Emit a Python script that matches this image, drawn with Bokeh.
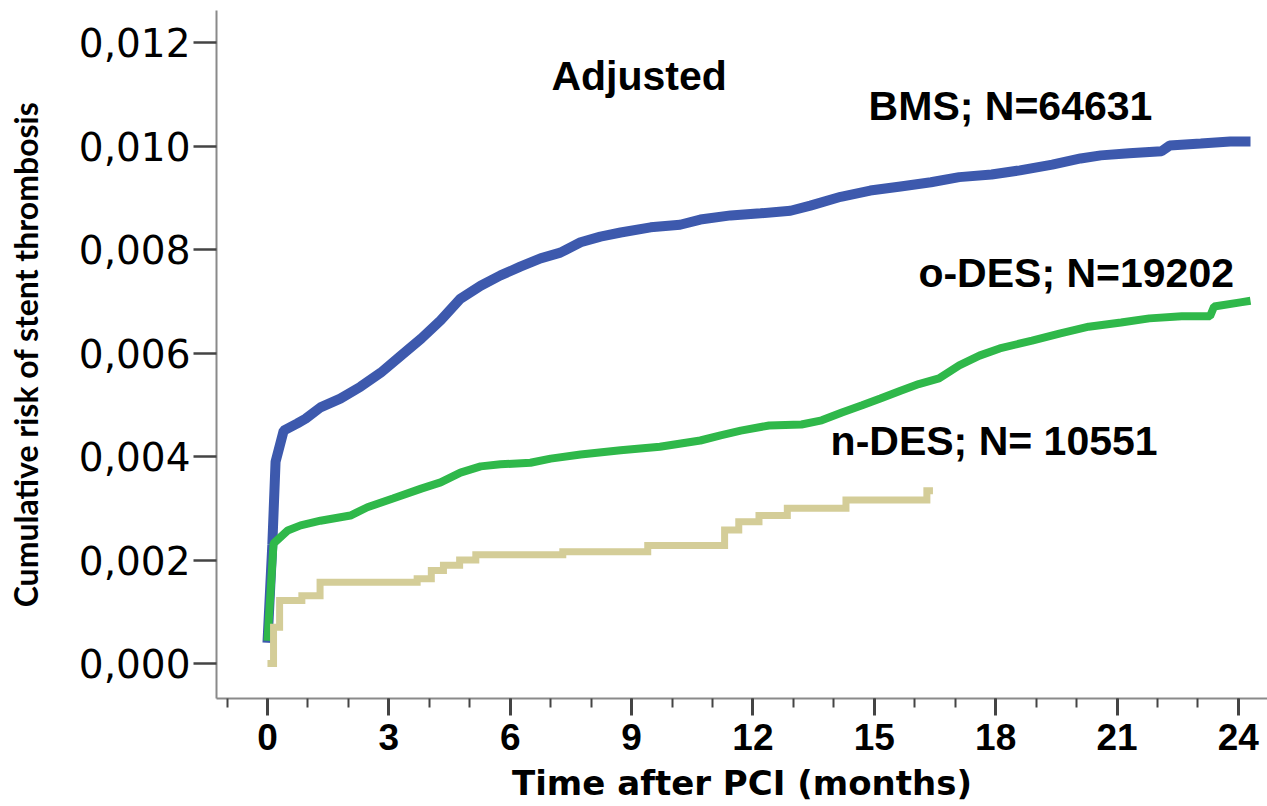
from bokeh.plotting import figure
from bokeh.models import Range1d, SingleIntervalTicker, FixedTicker, CustomJSTickFormatter, Label
from bokeh.embed import file_html
from bokeh.resources import INLINE

# ---- data ----
bms_months = [0, 0.12, 0.2, 0.4, 0.74, 0.94, 1.31, 1.8, 2.3, 2.8, 3.3, 3.8, 4.28, 4.77, 5.27,
              5.76, 6.25, 6.75, 7.24, 7.74, 8.23, 8.73, 9.47, 10.2, 10.7, 11.45, 12.19, 12.93,
              13.42, 14.17, 14.9, 15.65, 16.4, 17.1, 17.9, 18.6, 19.4, 20.1, 20.6, 21.3, 22.1,
              22.3, 23.07, 23.8, 24.3]
bms_risk = [0.0004, 0.0023, 0.0039, 0.0045, 0.00464, 0.00473, 0.00495, 0.00512, 0.00535, 0.00562,
            0.00595, 0.00628, 0.00663, 0.00705, 0.0073, 0.0075, 0.00767, 0.00783, 0.00794, 0.00814,
            0.00825, 0.00833, 0.00843, 0.00848, 0.00858, 0.00866, 0.0087, 0.00875, 0.00885, 0.00902,
            0.00914, 0.00922, 0.0093, 0.0094, 0.00945, 0.00953, 0.00964, 0.00976, 0.00982, 0.00986,
            0.0099, 0.01001, 0.01005, 0.01009, 0.01009]

odes_months = [0, 0.15, 0.5, 0.82, 1.31, 2.05, 2.47, 3.1, 3.8, 4.28, 4.77, 5.27, 5.76, 6.5, 7.0,
               7.74, 8.73, 9.7, 10.7, 11.2, 11.7, 12.4, 13.2, 13.7, 14.2, 14.7, 15.15, 15.65, 16.1,
               16.6, 17.1, 17.6, 18.1, 18.9, 19.6, 20.3, 21.1, 21.8, 22.6, 23.3, 23.4, 24.05, 24.3]
odes_risk = [0.00044, 0.00232, 0.00257, 0.00267, 0.00276, 0.00286, 0.00302, 0.00319, 0.00338, 0.0035,
             0.00369, 0.00381, 0.00385, 0.00388, 0.00396, 0.00404, 0.00412, 0.00419, 0.00431, 0.00441,
             0.0045, 0.0046, 0.00462, 0.0047, 0.00485, 0.00499, 0.00512, 0.00527, 0.0054, 0.00551,
             0.00576, 0.00595, 0.00609, 0.00624, 0.00638, 0.00651, 0.00659, 0.00667, 0.00671, 0.00671,
             0.0069, 0.00698, 0.00701]

ndes_months = [0, 0.15, 0.3, 0.85, 1.3, 3.7, 4.05, 4.35, 4.75, 5.15, 7.3, 9.4, 11.3, 11.65, 12.15,
               12.85, 14.3, 16.3, 16.45]
ndes_risk = [0, 0.0007, 0.00122, 0.00131, 0.00157, 0.00164, 0.0018, 0.0019, 0.002, 0.0021, 0.00216,
             0.00228, 0.00258, 0.00274, 0.00286, 0.003, 0.00316, 0.00334, 0.00334]

y_ticks = [0.0, 0.002, 0.004, 0.006, 0.008, 0.010, 0.012]

p = figure(width=1267, height=806, output_backend="svg", toolbar_location=None,
           x_range=Range1d(-1.26, 24.72), y_range=Range1d(-0.000676, 0.01262),
           min_border_left=216, min_border_right=0, min_border_top=10, min_border_bottom=108)
p.outline_line_color = None
p.grid.visible = False
p.background_fill_color = "white"
p.border_fill_color = "white"

p.line(bms_months, bms_risk, line_color="#3d59ad", line_width=10)
p.line(odes_months, odes_risk, line_color="#2fb84a", line_width=8)
p.step(ndes_months, ndes_risk, mode="after", line_color="#d4cd98", line_width=7, line_join="miter")

xa = p.xaxis[0]
xa.ticker = SingleIntervalTicker(interval=3, num_minor_ticks=3)
xa.axis_line_color = "#8a8a8a"
xa.axis_line_width = 2
xa.major_tick_line_color = "#444444"
xa.major_tick_line_width = 3
xa.major_tick_out = 17
xa.major_tick_in = 0
xa.minor_tick_line_color = "#444444"
xa.minor_tick_line_width = 2
xa.minor_tick_out = 9
xa.minor_tick_in = 0
xa.major_label_text_font = "Liberation Sans"
xa.major_label_text_font_style = "bold"
xa.major_label_text_font_size = "37px"
xa.major_label_text_color = "black"
xa.major_label_standoff = 8
xa.axis_label = "Time after PCI (months)"
xa.axis_label_text_font = "DejaVu Sans"
xa.axis_label_text_font_style = "bold"
xa.axis_label_text_font_size = "34px"
xa.axis_label_text_color = "black"
xa.axis_label_standoff = 10

ya = p.yaxis[0]
ya.ticker = FixedTicker(ticks=y_ticks, minor_ticks=[])
ya.formatter = CustomJSTickFormatter(code="return tick.toFixed(3).replace('.', ',');")
ya.axis_line_color = "#8a8a8a"
ya.axis_line_width = 2
ya.major_tick_line_color = "#444444"
ya.major_tick_line_width = 2.5
ya.major_tick_out = 23
ya.major_tick_in = 0
ya.minor_tick_line_color = None
ya.major_label_text_font = "DejaVu Sans"
ya.major_label_text_font_size = "39px"
ya.major_label_text_color = "black"
ya.major_label_standoff = 3
ya.axis_label = "Cumulative risk of stent thrombosis"
ya.axis_label_text_font = "Lato"
ya.axis_label_text_font_style = "bold"
ya.axis_label_text_font_size = "32px"
ya.axis_label_text_color = "black"
ya.axis_label_standoff = 31

lab_style = dict(text_font="Liberation Sans", text_font_style="bold", text_font_size="41px",
                 text_color="black", text_baseline="alphabetic")
p.add_layout(Label(x=7.02, y=0.01136, text="Adjusted", **lab_style))
p.add_layout(Label(x=14.86, y=0.01078, text="BMS; N=64631", **lab_style))
p.add_layout(Label(x=16.09, y=0.00754, text="o-DES; N=19202", **lab_style))
p.add_layout(Label(x=13.92, y=0.00431, text="n-DES; N= 10551", **lab_style))

open("out.html", "w").write(file_html(p, INLINE))
